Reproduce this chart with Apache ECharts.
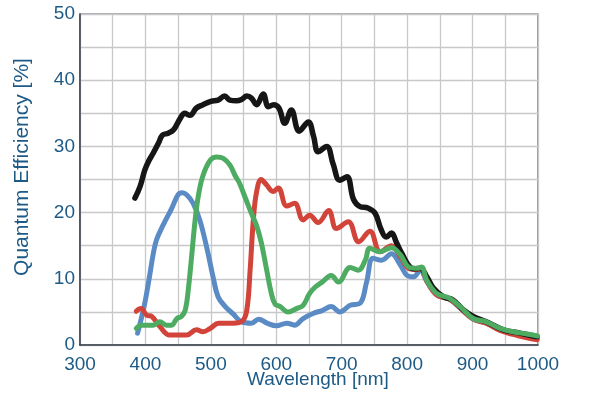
<!DOCTYPE html>
<html>
<head>
<meta charset="utf-8">
<script src="https://cdn.jsdelivr.net/npm/echarts@6/dist/echarts.min.js"></script>
<style>html,body{margin:0;padding:0;background:#fff}#c{width:600px;height:396px}</style>
</head>
<body>
<div id="c"></div>
<script>
var xTicks = [300, 400, 500, 600, 700, 800, 900, 1000];
var yTicks = [0, 10, 20, 30, 40, 50];

var blackNm = [384,392,399,405,412,420,426,435,443,453,460,468,478,488,500,511,521,529,539,547,555,562,570,580,588,596,604,613,623,635,649,657,664,677,687,697,708,718,728,740,751,760,768,776,784,792,804,812,820,830,840,855,870,886,901,921,947,972,998];
var blackQE = [22.2,24.0,26.4,27.8,29.0,30.5,31.7,32.0,32.5,34.2,35.0,34.7,35.8,36.3,36.8,37.0,37.6,37.0,36.9,37.1,37.6,37.3,36.3,37.9,36.0,36.3,35.8,33.5,35.5,32.3,33.7,31.5,29.2,30.0,27.3,24.9,25.4,22.0,20.9,20.7,19.9,17.5,16.3,16.9,15.4,13.8,11.8,11.5,11.6,10.3,8.6,7.3,6.8,5.3,4.3,3.5,2.3,1.8,1.25];

var greenNm = [386,394,404,412,422,432,440,448,455,461,466,471,476,481,488,499,509,519,529,537,544,552,562,570,577,585,592,598,606,618,631,641,651,660,670,684,695,713,725,736,743,758,776,789,804,817,822,830,845,865,881,901,921,942,962,983,999];
var greenQE = [2.5,3.0,3.0,3.0,3.5,3.0,3.0,4.0,4.3,5.3,8.8,13.8,18.9,22.6,25.6,27.9,28.4,28.2,27.2,25.6,24.4,22.4,19.9,18.0,15.5,11.5,8.0,6.2,5.8,5.0,5.5,6.0,7.8,8.8,9.5,10.5,9.5,11.7,11.3,12.8,14.6,14.1,14.7,13.7,11.7,11.6,11.8,9.8,7.8,7.05,5.8,4.0,3.5,2.5,2.0,1.66,1.36];

var blueNm = [388,392,399,407,412,417,427,440,450,456,463,473,483,494,504,511,522,534,547,562,573,586,600,616,628,641,657,670,684,697,713,728,738,748,761,776,789,800,810,820,830,845,865,881,901,921,942,962,983,999];
var blueQE = [1.8,3.3,6.3,10.8,13.8,15.9,18.1,20.6,22.7,23.0,22.7,21.4,18.9,14.6,10.0,7.3,5.8,4.7,3.5,3.3,3.9,3.3,2.9,3.3,3.0,4.0,4.8,5.2,5.8,5.0,6.0,6.3,9.5,13.1,12.8,13.8,12.2,10.5,10.3,11.3,9.6,7.6,6.9,5.6,3.9,3.3,2.3,1.8,1.4,1.1];

var redNm = [386,393,402,410,422,437,450,463,478,488,499,512,534,548,555,560,565,570,577,585,595,603,616,628,641,651,664,680,692,710,726,743,759,776,790,804,817,822,830,845,865,881,901,921,942,962,983,999];
var redQE = [5.1,5.5,4.5,4.3,2.8,1.5,1.5,1.5,2.3,2.0,2.5,3.3,3.3,3.6,5.3,11.3,19.0,23.2,25.0,24.2,23.2,23.7,21.0,21.4,18.9,19.6,18.5,20.3,17.6,18.6,15.6,17.2,14.1,15.0,13.3,11.5,11.4,11.6,9.7,7.6,6.9,5.6,3.9,3.3,2.2,1.6,1.1,0.8];

function pairs(xs, ys) { return xs.map(function (x, i) { return [x, ys[i]]; }); }

var textColor = '#1d5a86';
var font = 'Liberation Sans, Arial, Helvetica, sans-serif';

function mkSeries(name, xs, ys, color, w) {
  return {
    name: name, type: 'line', smooth: 0.4, symbol: 'none',
    data: pairs(xs, ys),
    lineStyle: { color: color, width: w, cap: 'round', join: 'round' },
    z: 3
  };
}

var chart = echarts.init(document.getElementById('c'), null, { renderer: 'canvas' });
chart.setOption({
  animation: false,
  backgroundColor: '#ffffff',
  grid: { left: 80, top: 14, right: 62, bottom: 51, show: true, borderColor: '#555b66', borderWidth: 1.2, backgroundColor: 'transparent' },
  xAxis: {
    type: 'value', min: 300, max: 1000, interval: 50,
    axisLine: { show: true, lineStyle: { color: '#3a3f48', width: 1.5 } },
    axisTick: { show: false },
    splitLine: { show: true, lineStyle: { color: '#c8c8c8', width: 1.3 } },
    axisLabel: {
      color: textColor, fontSize: 19, fontFamily: font, margin: 10,
      formatter: function (v) { return xTicks.indexOf(v) >= 0 ? String(v) : ''; }
    }
  },
  yAxis: {
    type: 'value', min: 0, max: 50, interval: 5,
    axisLine: { show: true, lineStyle: { color: '#3a3f48', width: 1.5 } },
    axisTick: { show: false },
    splitLine: { show: true, lineStyle: { color: '#c8c8c8', width: 1.3 } },
    axisLabel: {
      color: textColor, fontSize: 19, fontFamily: font, margin: 5,
      formatter: function (v) { return yTicks.indexOf(v) >= 0 ? String(v) : ''; }
    }
  },
  graphic: [
    { type: 'text', left: 247, top: 370, style: { text: 'Wavelength [nm]', fill: textColor, font: '19px ' + font } },
    { type: 'text', x: 22, y: 167, rotation: Math.PI / 2, style: { text: 'Quantum Efficiency [%]', fill: textColor, font: '21px ' + font, align: 'center', verticalAlign: 'middle' } }
  ],
  series: [
    mkSeries('Blue', blueNm, blueQE, '#5b8bc5', 5),
    mkSeries('Red', redNm, redQE, '#d2443a', 5),
    mkSeries('Black', blackNm, blackQE, '#161616', 5.5),
    mkSeries('Green', greenNm, greenQE, '#4dab62', 5)
  ]
});
</script>
</body>
</html>
